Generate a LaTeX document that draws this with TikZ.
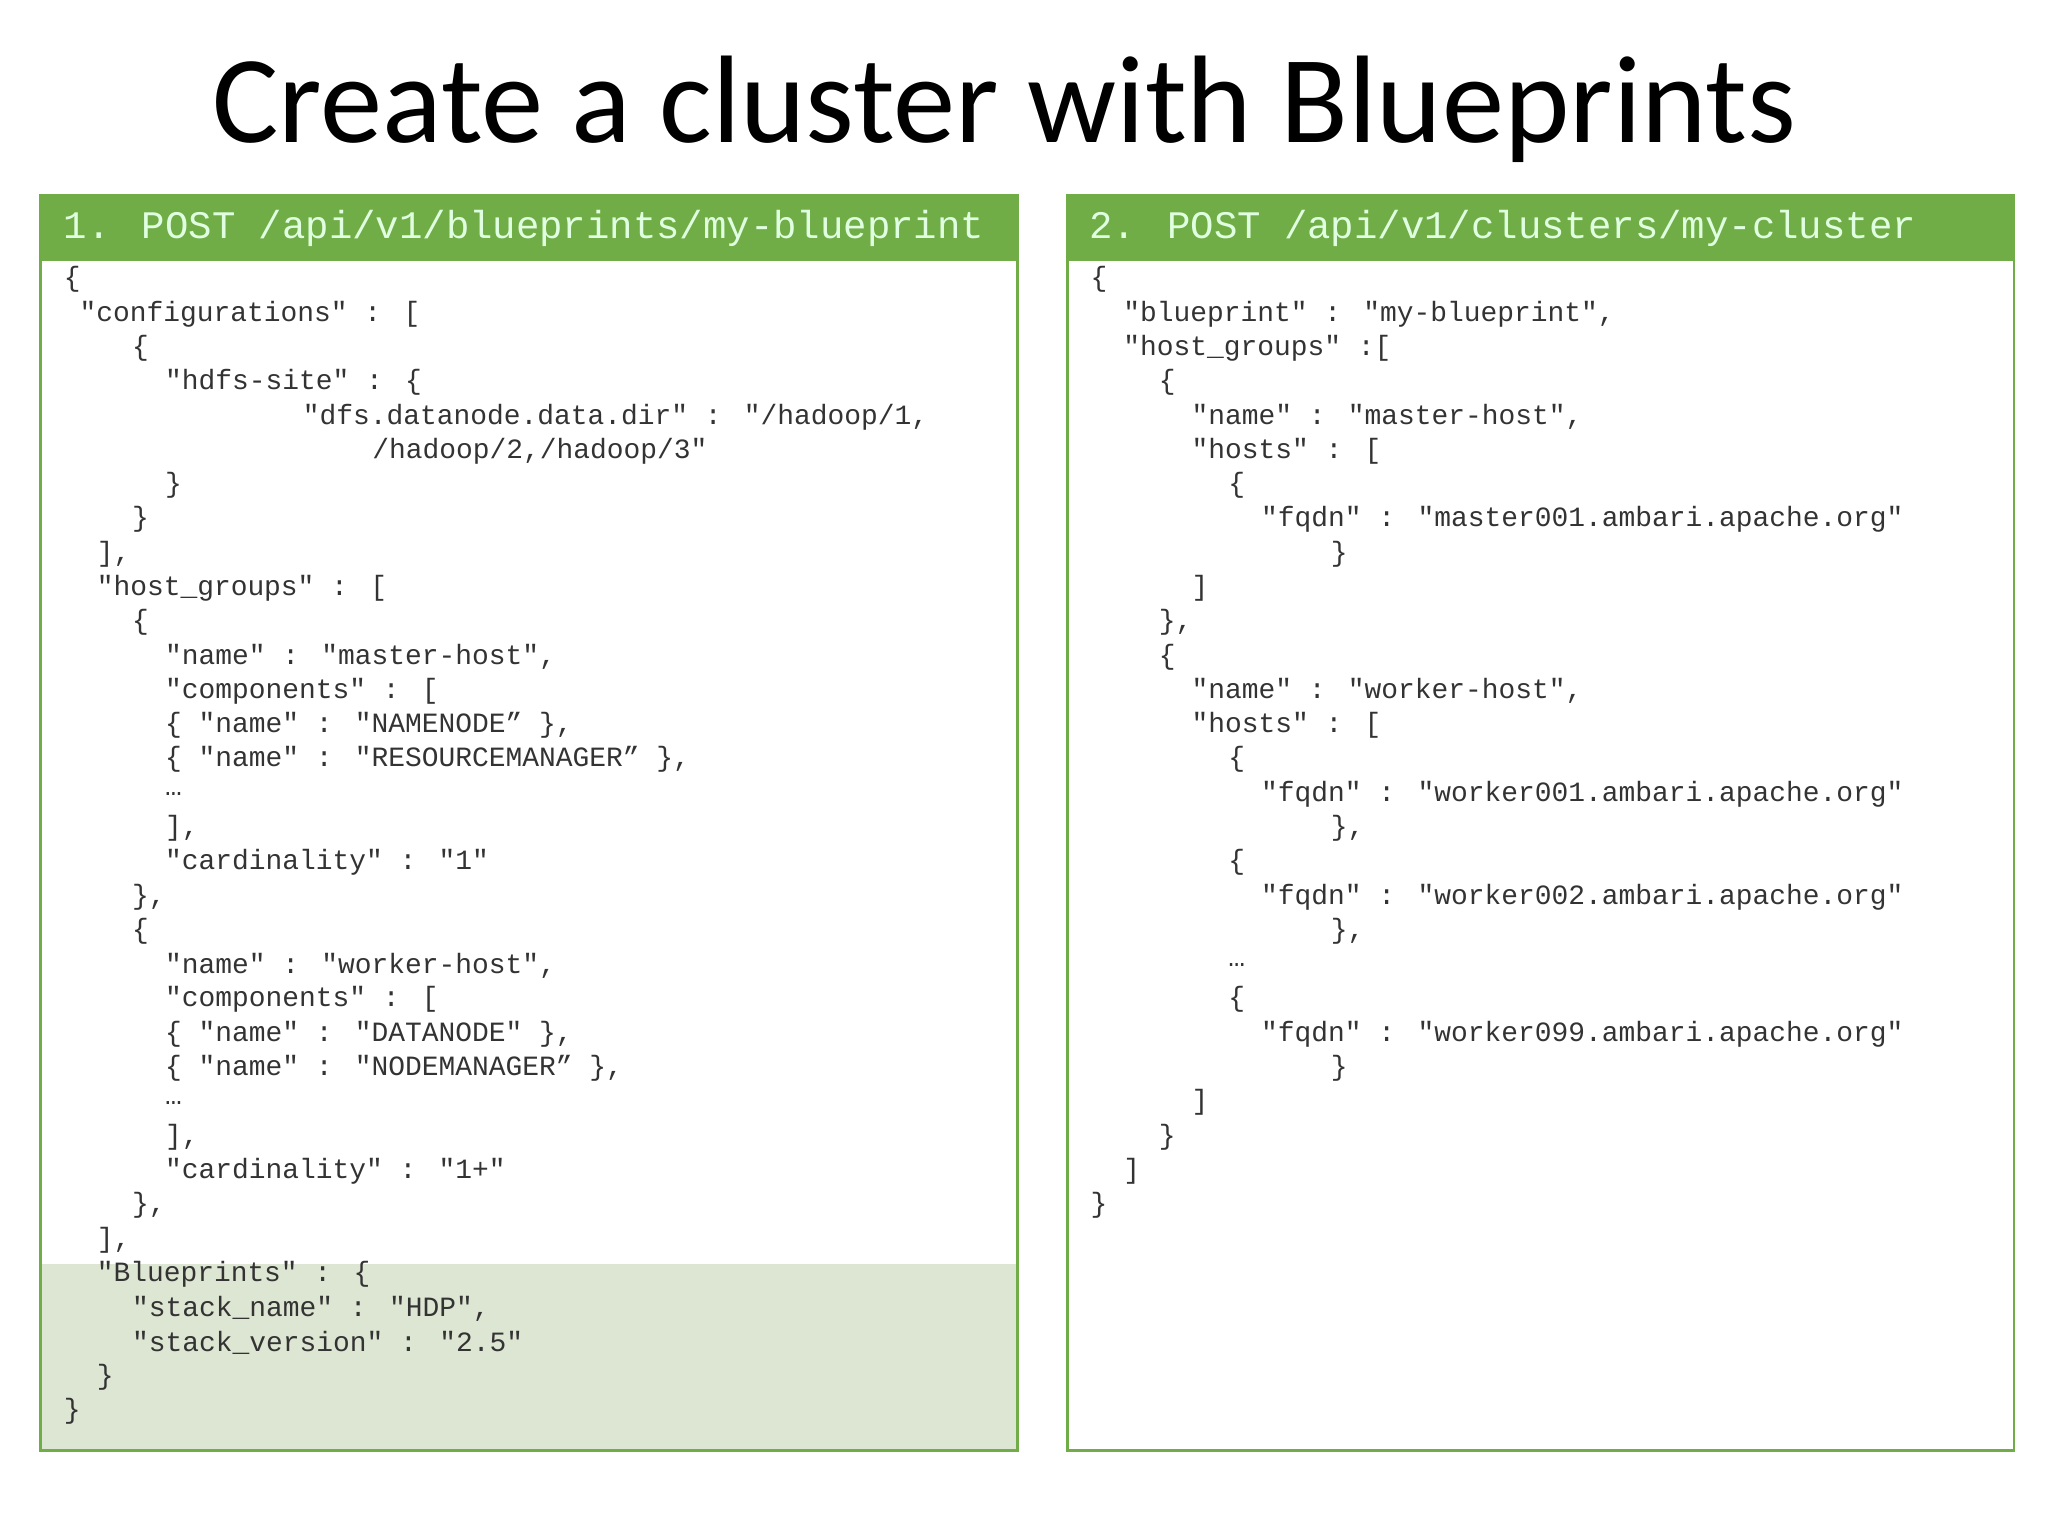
\documentclass[tikz,border=0pt]{standalone}
\usepackage{fontspec}
\setmainfont{Carlito}
\newfontfamily\codefont{Liberation Mono}
\definecolor{hdrgreen}{HTML}{70AD47}
\definecolor{shadegreen}{HTML}{DDE6D3}
\definecolor{codegray}{HTML}{333333}
\tikzset{
  code/.style={anchor=west, inner sep=0pt, font=\codefont\fontsize{6.05}{7}\selectfont, text=codegray},
  header/.style={anchor=west, inner sep=0pt, font=\codefont\fontsize{8.45}{10}\selectfont, text=white!88!green},
  panel/.style={draw=hdrgreen, line width=0.6pt}
}
\begin{document}
\begin{tikzpicture}[x=0.1mm, y=-0.1mm]
\useasboundingbox (0,0) rectangle (1560,1170);
% title
\node[font=\fontsize{27}{30}\selectfont] (title) at (765,83) {Create a cluster with Blueprints};
% left panel
\fill[shadegreen] (31,963) rectangle (775,1105);
\draw[panel] (31,149) rectangle (775,1105);
\fill[hdrgreen] (31,149) rectangle (775,199);
\node[header] (hdrleft) at (48,174) {1. POST /api/v1/blueprints/my-blueprint};
% right panel
\draw[panel] (813,149) rectangle (1534,1105);
\fill[hdrgreen] (813,149) rectangle (1534,199);
\node[header] (hdrright) at (829,174) {2. POST /api/v1/clusters/my-cluster};
% left code
\foreach \x/\r/\t in {
  48/0/{\{}, 60/1/{"configurations" : [}, 100/2/{\{}, 125/3/{"hdfs-site" : \{},
  230/4/{"dfs.datanode.data.dir" : "/hadoop/1,}, 283/5/{/hadoop/2,/hadoop/3"},
  125/6/{\}}, 100/7/{\}}, 73/8/{],}, 73/9/{"host\_groups" : [}, 100/10/{\{},
  125/11/{"name" : "master-host",}, 125/12/{"components" : [},
  125/13/{\{ "name" : "NAMENODE” \},}, 125/14/{\{ "name" : "RESOURCEMANAGER” \},},
  125/15/{…}, 125/16/{],}, 125/17/{"cardinality" : "1"}, 100/18/{\},}, 100/19/{\{},
  125/20/{"name" : "worker-host",}, 125/21/{"components" : [},
  125/22/{\{ "name" : "DATANODE" \},}, 125/23/{\{ "name" : "NODEMANAGER” \},},
  125/24/{…}, 125/25/{],}, 125/26/{"cardinality" : "1+"}, 100/27/{\},}, 73/28/{],},
  73/29/{"Blueprints" : \{}, 100/30/{"stack\_name" : "HDP",},
  100/31/{"stack\_version" : "2.5"}, 73/32/{\}}, 48/33/{\}}}
  \node[code] (l\r) at (\x,213+26.12*\r) {\t};
% right code
\foreach \x/\r/\t in {
  830/0/{\{}, 855/1/{"blueprint" : "my-blueprint",}, 855/2/{"host\_groups" :[},
  882/3/{\{}, 907/4/{"name" : "master-host",}, 907/5/{"hosts" : [}, 935/6/{\{},
  960/7/{"fqdn" : "master001.ambari.apache.org"}, 1013/8/{\}}, 907/9/{]},
  882/10/{\},}, 882/11/{\{}, 907/12/{"name" : "worker-host",}, 907/13/{"hosts" : [},
  935/14/{\{}, 960/15/{"fqdn" : "worker001.ambari.apache.org"}, 1013/16/{\},},
  935/17/{\{}, 960/18/{"fqdn" : "worker002.ambari.apache.org"}, 1013/19/{\},},
  935/20/{…}, 935/21/{\{}, 960/22/{"fqdn" : "worker099.ambari.apache.org"},
  1013/23/{\}}, 907/24/{]}, 882/25/{\}}, 855/26/{]}, 830/27/{\}}}
  \node[code] (r\r) at (\x,213+26.12*\r) {\t};
\end{tikzpicture}
\end{document}
